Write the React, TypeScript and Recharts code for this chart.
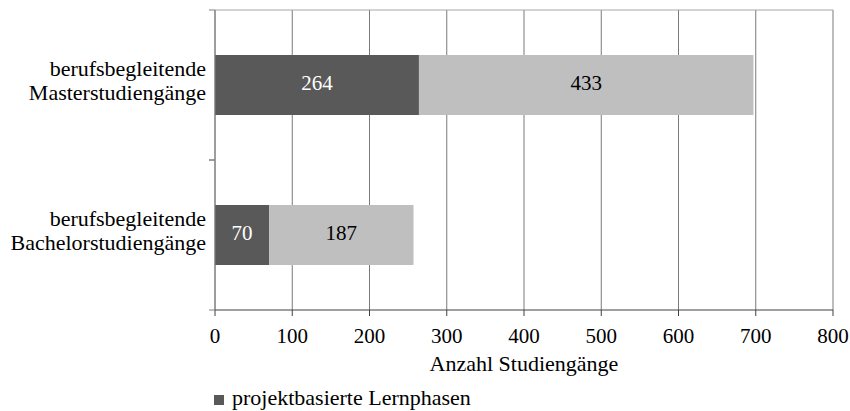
import React from 'react';
import {
  BarChart, Bar, XAxis, YAxis, CartesianGrid, Legend, LabelList,
} from 'recharts';

// --- Daten ---
const categories = [
  'berufsbegleitende\nMasterstudiengänge',
  'berufsbegleitende\nBachelorstudiengänge',
];
const projektbasiert = [264, 70];
const uebrige = [433, 187];
const xTicks = [0, 100, 200, 300, 400, 500, 600, 700, 800];

const seriesNames = ['projektbasierte Lernphasen', 'übrige Studiengänge'];

const data = categories.map((name, i) => ({
  name,
  projekt: projektbasiert[i],
  rest: uebrige[i],
}));

const FONT = 'Liberation Serif, Times New Roman, Times, DejaVu Serif, serif';

// Kategorie-Beschriftung, zweizeilig, mit Teilstrichen an den Grenzen
const CategoryTick = (props: any) => {
  const { x, y, payload } = props;
  const half = payload && payload.offset ? payload.offset : 75;
  const lines = String(payload.value).split('\n');
  return (
    <g>
      <line x1={x + 2} x2={x + 8} y1={y - half} y2={y - half} stroke="#7f7f7f" />
      <line x1={x + 2} x2={x + 8} y1={y + half} y2={y + half} stroke="#7f7f7f" />
      <text x={x - 1} y={y} textAnchor="end" fontFamily={FONT} fontSize={22} fill="#000">
        <tspan x={x - 1} dy={-9}>{lines[0]}</tspan>
        <tspan x={x - 1} dy={23.5}>{lines[1]}</tspan>
      </text>
    </g>
  );
};

const LegendContent = () => (
  <div style={{ display: 'flex', alignItems: 'center', height: 22, fontFamily: FONT, fontSize: 22, lineHeight: '22px', color: '#000' }}>
    <span style={{ display: 'inline-block', width: 10, height: 10, background: '#595959', marginRight: 8, position: 'relative', top: 2 }} />
    <span>{seriesNames[0]}</span>
  </div>
);

export default function App() {
  return (
    <div style={{ position: 'absolute', left: 0, top: 0, background: '#fff', fontFamily: FONT }}>
      <BarChart
        width={850}
        height={411}
        data={data}
        layout="vertical"
        margin={{ top: 10, right: 17, left: 0, bottom: 2 }}
        barCategoryGap="30%"
      >
        <CartesianGrid
          horizontal={false}
          stroke="#7a7a7a"
          strokeWidth={1}
        />
        <CartesianGrid
          vertical={false}
          stroke="#a6a6a6"
          horizontalCoordinatesGenerator={({ offset }: any) => [offset.top]}
        />
        <XAxis
          type="number"
          domain={[0, 800]}
          ticks={xTicks}
          interval={0}
          stroke="#404040"
          tickSize={6}
          tickMargin={12}
          height={77}
          tick={{ fill: '#000', fontFamily: FONT, fontSize: 21 }}
          label={{ value: 'Anzahl Studiengänge', position: 'insideBottom', offset: 16, fill: '#000', fontFamily: FONT, fontSize: 22 }}
        />
        <YAxis
          type="category"
          dataKey="name"
          width={215}
          stroke="#7f7f7f"
          tickLine={false}
          tickSize={6}
          tickMargin={2}
          interval={0}
          tick={<CategoryTick />}
        />
        <Legend
          verticalAlign="bottom"
          align="left"
          content={<LegendContent />}
          wrapperStyle={{ left: 214, width: 400 }}
        />
        <Bar dataKey="projekt" name={seriesNames[0]} stackId="a" fill="#595959" isAnimationActive={false}>
          <LabelList dataKey="projekt" position="center" fill="#fff" fontFamily={FONT} fontSize={21} dy={-2} />
        </Bar>
        <Bar dataKey="rest" name={seriesNames[1]} stackId="a" fill="#bfbfbf" isAnimationActive={false}>
          <LabelList dataKey="rest" position="center" fill="#000" fontFamily={FONT} fontSize={21} dy={-2} />
        </Bar>
      </BarChart>
    </div>
  );
}
